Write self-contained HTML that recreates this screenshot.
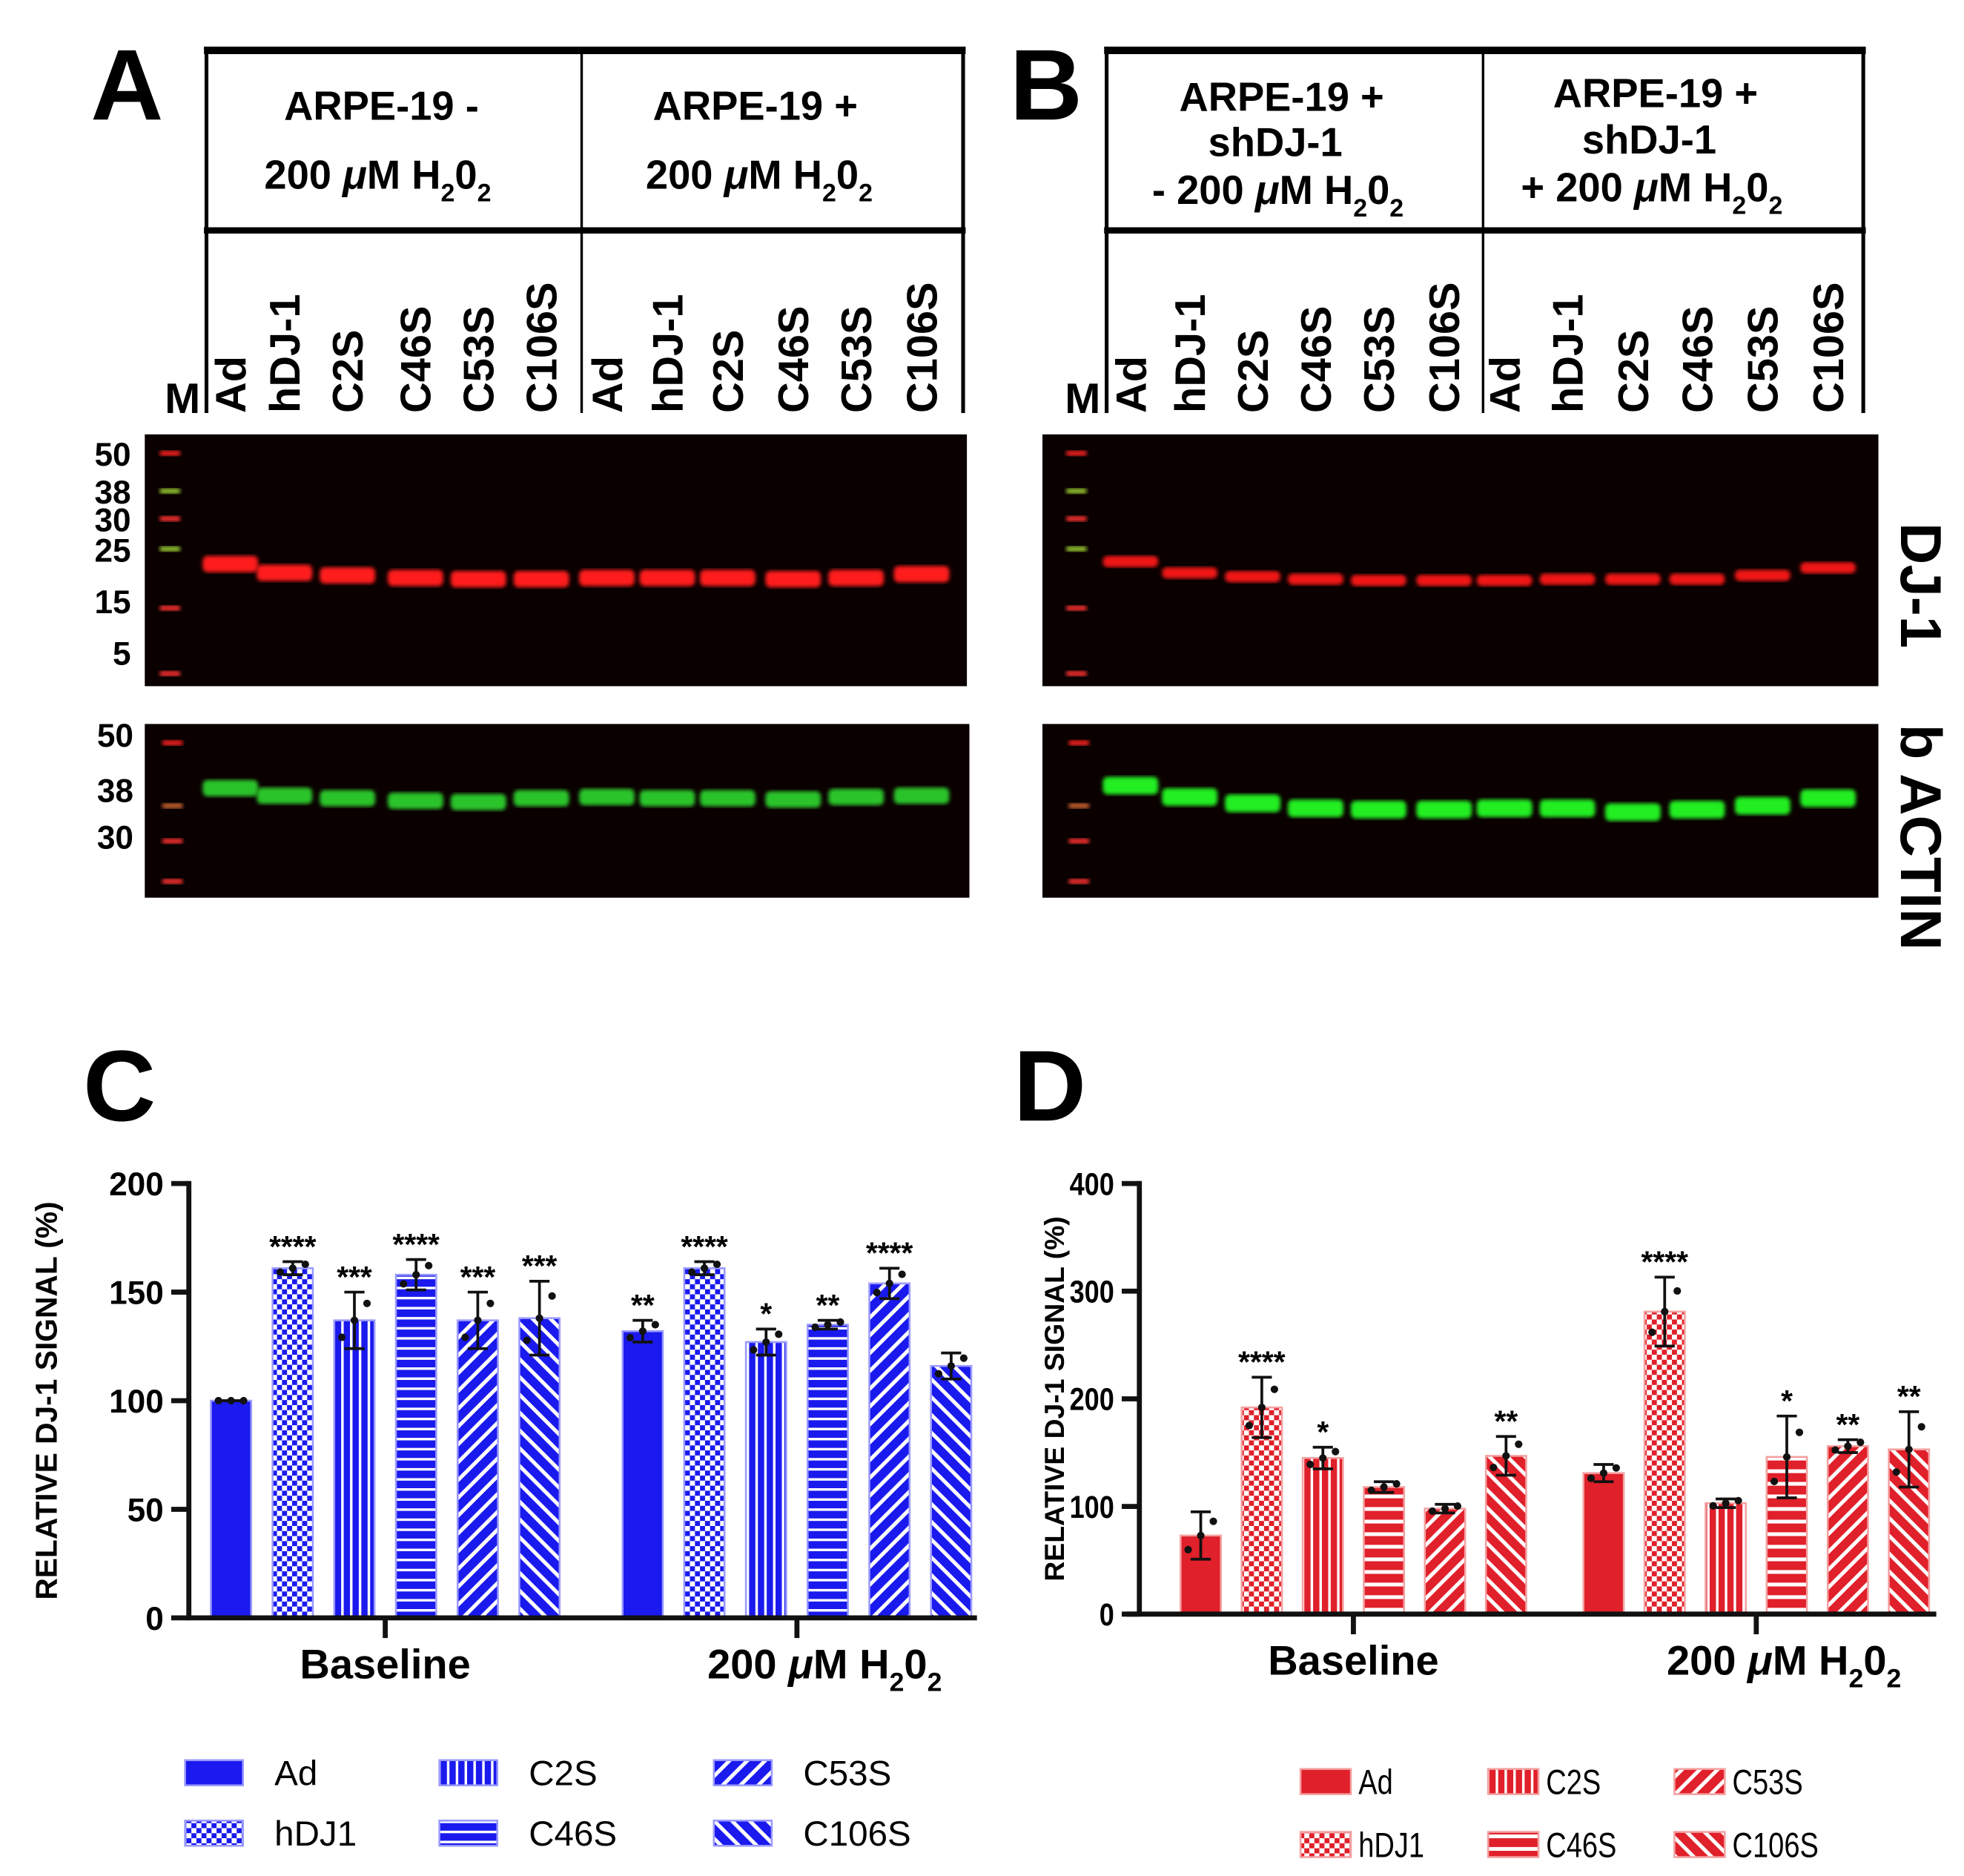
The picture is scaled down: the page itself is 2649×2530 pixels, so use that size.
<!DOCTYPE html>
<html><head><meta charset="utf-8"><style>
html,body{margin:0;padding:0;background:#fff;}
svg{display:block;font-family:"Liberation Sans",Arial,sans-serif;}
</style></head><body>
<svg id="fig" width="2649" height="2530" viewBox="0 0 1560 1490" preserveAspectRatio="none" xmlns="http://www.w3.org/2000/svg">
<defs>
 <pattern id="b-chk" width="8" height="8" patternUnits="userSpaceOnUse"><rect width="8" height="8" fill="#fff"/><rect width="4" height="4" fill="#1a1aee"/><rect x="4" y="4" width="4" height="4" fill="#1a1aee"/></pattern>
 <pattern id="b-vert" width="7" height="7" patternUnits="userSpaceOnUse"><rect width="7" height="7" fill="#1a1aee"/><rect x="5" width="2" height="7" fill="#fff"/></pattern>
 <pattern id="b-hor" width="8" height="8" patternUnits="userSpaceOnUse"><rect width="8" height="8" fill="#1a1aee"/><rect y="6" width="8" height="2" fill="#fff"/></pattern>
 <pattern id="b-up" width="10" height="10" patternUnits="userSpaceOnUse" patternTransform="rotate(45)"><rect width="10" height="10" fill="#1a1aee"/><rect x="7" width="3" height="10" fill="#fff"/></pattern>
 <pattern id="b-down" width="10" height="10" patternUnits="userSpaceOnUse" patternTransform="rotate(-45)"><rect width="10" height="10" fill="#1a1aee"/><rect x="7" width="3" height="10" fill="#fff"/></pattern>
 <pattern id="r-chk" width="8" height="8" patternUnits="userSpaceOnUse"><rect width="8" height="8" fill="#fff"/><rect width="4" height="4" fill="#e0202a"/><rect x="4" y="4" width="4" height="4" fill="#e0202a"/></pattern>
 <pattern id="r-vert" width="7" height="7" patternUnits="userSpaceOnUse"><rect width="7" height="7" fill="#e0202a"/><rect x="5" width="2" height="7" fill="#fff"/></pattern>
 <pattern id="r-hor" width="10" height="10" patternUnits="userSpaceOnUse"><rect width="10" height="10" fill="#e0202a"/><rect y="7" width="10" height="3" fill="#fff"/></pattern>
 <pattern id="r-up" width="10" height="10" patternUnits="userSpaceOnUse" patternTransform="rotate(45)"><rect width="10" height="10" fill="#e0202a"/><rect x="7" width="3" height="10" fill="#fff"/></pattern>
 <pattern id="r-down" width="10" height="10" patternUnits="userSpaceOnUse" patternTransform="rotate(-45)"><rect width="10" height="10" fill="#e0202a"/><rect x="7" width="3" height="10" fill="#fff"/></pattern>
 <filter id="blur"><feGaussianBlur stdDeviation="1.5"/></filter>
</defs>

<text x="72" y="95" font-size="80" font-weight="bold">A</text>
<text x="802" y="95" font-size="80" font-weight="bold">B</text>
<text x="66" y="890" font-size="80" font-weight="bold">C</text>
<text x="805" y="890" font-size="80" font-weight="bold">D</text>

<g stroke="#000" fill="none">
 <line x1="162" y1="40" x2="767" y2="40" stroke-width="6"/>
 <line x1="162" y1="183" x2="767" y2="183" stroke-width="5"/>
 <line x1="164" y1="40" x2="164" y2="328" stroke-width="3"/>
 <line x1="462" y1="40" x2="462" y2="328" stroke-width="2"/>
 <line x1="765" y1="40" x2="765" y2="328" stroke-width="3"/>
</g>
<g stroke="#000" fill="none">
 <line x1="877" y1="40" x2="1482" y2="40" stroke-width="6"/>
 <line x1="877" y1="183" x2="1482" y2="183" stroke-width="5"/>
 <line x1="879" y1="40" x2="879" y2="328" stroke-width="3"/>
 <line x1="1178" y1="40" x2="1178" y2="328" stroke-width="2"/>
 <line x1="1480" y1="40" x2="1480" y2="328" stroke-width="3"/>
</g>
<g font-weight="bold" font-size="32" text-anchor="middle">
 <text x="303" y="95">ARPE-19 -</text>
 <text x="300" y="150">200 <tspan font-style="italic">μ</tspan>M H<tspan font-size="20" dy="10">2</tspan><tspan dy="-10">0</tspan><tspan font-size="20" dy="10">2</tspan></text>
 <text x="600" y="95">ARPE-19 +</text>
 <text x="603" y="150">200 <tspan font-style="italic">μ</tspan>M H<tspan font-size="20" dy="10">2</tspan><tspan dy="-10">0</tspan><tspan font-size="20" dy="10">2</tspan></text>
 <text x="1018" y="88">ARPE-19 +</text>
 <text x="1013" y="124">shDJ-1</text>
 <text x="1015" y="162">- 200 <tspan font-style="italic">μ</tspan>M H<tspan font-size="20" dy="10">2</tspan><tspan dy="-10">0</tspan><tspan font-size="20" dy="10">2</tspan></text>
 <text x="1315" y="85">ARPE-19 +</text>
 <text x="1310" y="122">shDJ-1</text>
 <text x="1312" y="160">+ 200 <tspan font-style="italic">μ</tspan>M H<tspan font-size="20" dy="10">2</tspan><tspan dy="-10">0</tspan><tspan font-size="20" dy="10">2</tspan></text>
</g>
<g id="lanes"></g>
<g id="blots"></g>

<text transform="translate(1510,465) rotate(90)" text-anchor="middle" font-size="46" font-weight="bold">DJ-1</text>
<text transform="translate(1510,665) rotate(90)" text-anchor="middle" font-size="46" font-weight="bold">b ACTIN</text>

<g id="chartC"></g>
<g id="chartD"></g>
</svg>
<script>
const NS='http://www.w3.org/2000/svg';
function mk(tag,attrs,parent,txt){const e=document.createElementNS(NS,tag);for(const k in attrs)e.setAttribute(k,attrs[k]);if(txt!==undefined)e.textContent=txt;parent.appendChild(e);return e;}

const laneNames=['Ad','hDJ-1','C2S','C46S','C53S','C106S','Ad','hDJ-1','C2S','C46S','C53S','C106S'];
const lanesA=[183,226,276,330,380,430,482,530,578,630,680,732];
const lanesB=[898,945,995,1045,1095,1147,1195,1245,1297,1348,1400,1452];
const lg=document.getElementById('lanes');
[[lanesA,145,'a'],[lanesB,860,'b']].forEach(([xs,mx,p])=>{
  const m=mk('text',{x:mx,y:328,'font-size':34,'font-weight':'bold','text-anchor':'middle'},lg,'M');
  
  
  xs.forEach((x,i)=>{
    const t=mk('text',{transform:`translate(${x+12},328) rotate(-90)`,'font-size':34,'font-weight':'bold'},lg,laneNames[i]);
    
    
  });
});

const bg=document.getElementById('blots');
function blot(x,y,w,h,name,lanes,bandY,color,bh,ladderX,ladder){
  const g=mk('g',{},bg);
  
  
  mk('rect',{x,y,width:w,height:h,fill:'#0a0000'},g);
  ladder.forEach(([ly,c])=>mk('rect',{x:ladderX-8,y:ly-2,width:16,height:4,fill:c,filter:'url(#blur)'},g));
  lanes.forEach((lx,i)=>{
    mk('rect',{x:lx-22,y:bandY[i]-bh/2,width:44,height:bh,rx:4,fill:color,filter:'url(#blur)'},g);
  });
}
const ladRed=[[360,'#f22'],[390,'#9c3'],[412,'#f33'],[436,'#9c3'],[483,'#f33'],[535,'#f33']];
const ladAct=[[590,'#f22'],[640,'#c63'],[668,'#f33'],[700,'#f33']];
blot(115,345,653,200,'dj1-blot-a',lanesA,[448,455,457,459,460,460,459,459,459,460,459,456],'#ff1a1a',13,135,ladRed);
blot(828,345,664,200,'dj1-blot-b',lanesB,[446,455,458,460,461,461,461,460,460,460,457,451],'#f01818',9,855,ladRed);
blot(115,575,655,138,'actin-blot-a',lanesA,[626,632,634,636,637,634,633,634,634,635,633,632],'#29c42c',13,137,ladAct);
blot(828,575,664,138,'actin-blot-b',lanesB,[624,633,638,642,643,643,642,642,645,643,640,634],'#22ee22',14,857,ladAct);
[['50',360],['38',390],['30',412],['25',436],['15',477],['5',518]].forEach(([t,y])=>{const e=mk('text',{x:104,y:y+10,'font-size':26,'font-weight':'bold','text-anchor':'end'},bg,t);});
[['50',583],['38',627],['30',664]].forEach(([t,y])=>{const e=mk('text',{x:106,y:y+10,'font-size':26,'font-weight':'bold','text-anchor':'end'},bg,t);});

const series=['Ad','hDJ1','C2S','C46S','C53S','C106S'];
const groups=['Baseline','200 μM H2O2'];
const cValues=[[100,161,137,158,137,138],[132,161,127,135,154,116]];
const cErrors=[[0,3,13,7,13,17],[5,3,6,2,7,6]];
const cStars=[['','****','***','****','***','***'],['**','****','*','**','****','']];
const cTicks=[0,50,100,150,200];
const dValues=[[73,192,145,118,98,147],[131,281,103,146,156,153]];
const dErrors=[[22,28,10,5,4,18],[8,32,4,38,6,35]];
const dStars=[['','****','*','','','**'],['','****','','*','**','**']];
const dTicks=[0,100,200,300,400];
const patKeys=['solid','chk','vert','hor','up','down'];

function chart(cfg){
  const g=document.getElementById(cfg.id);
  
  
  const ymax=cfg.ticks[cfg.ticks.length-1];
  const Y=v=>cfg.y0-(v/ymax)*(cfg.y0-cfg.ytop);
  const X=(gi,si)=>cfg.gx[gi]+(si-2.5)*cfg.step;
  cfg.values.forEach((vals,gi)=>vals.forEach((v,si)=>{
    const x=X(gi,si), bw=cfg.bw;
    const fill=si===0?cfg.color:`url(#${cfg.pre}-${patKeys[si]})`;
    const r=mk('rect',{x:x-bw/2,y:Y(v),width:bw,height:cfg.y0-Y(v),fill,stroke:cfg.light,'stroke-width':1.5},g);
    
    
    const e=cfg.errors[gi][si];
    const eg=mk('g',{stroke:'#111','stroke-width':2.2},g);
    
    
    mk('line',{x1:x,x2:x,y1:Y(v-e),y2:Y(v+e)},eg);
    mk('line',{x1:x-8,x2:x+8,y1:Y(v+e),y2:Y(v+e)},eg);
    mk('line',{x1:x-8,x2:x+8,y1:Y(v-e),y2:Y(v-e)},eg);
    [-10,0,10].forEach((dx,k)=>mk('circle',{cx:x+dx,cy:Y(v+(k-1)*e*0.6),r:3,fill:'#111',stroke:'none'},eg));
    const s=cfg.stars[gi][si];
    if(s){const t=mk('text',{x:x,y:Y(v+e)-4,'font-size':cfg.starFs,'font-weight':'bold','text-anchor':'middle'},g,s);
      
      }
  }));
  const ax=mk('g',{stroke:'#111','stroke-width':4},g);
  
  
  mk('line',{x1:cfg.ax,x2:cfg.ax,y1:cfg.ytop-2,y2:cfg.y0},ax);
  mk('line',{x1:cfg.xl,x2:cfg.xr,y1:cfg.y0,y2:cfg.y0},ax);
  cfg.ticks.forEach(t=>{
    mk('line',{x1:cfg.ax-14,x2:cfg.ax,y1:Y(t),y2:Y(t)},ax);
    const l=mk('text',{x:cfg.ax-20,y:Y(t)+cfg.tickFs*0.36,'font-size':cfg.tickFs,'font-weight':'bold','text-anchor':'end',stroke:'none',transform:cfg.narrow?`translate(${(cfg.ax-20)*0.15},0) scale(0.85,1)`:''},g,String(t));
    
    
  });
  cfg.gx.forEach((gx,gi)=>{
    mk('line',{x1:gx,x2:gx,y1:cfg.y0,y2:cfg.y0+16},ax);
    const t=mk('text',{x:gx+(gi?22:0),y:cfg.y0+48,'font-size':33,'font-weight':'bold','text-anchor':'middle'},g);
    
    
    if(gi===0)t.textContent=groups[0];
    else t.innerHTML='200 <tspan font-style="italic">μ</tspan>M H<tspan font-size="21" dy="10">2</tspan><tspan dy="-10">0</tspan><tspan font-size="21" dy="10">2</tspan>';
  });
  const yt=mk('text',{transform:`translate(${cfg.ytx},${(cfg.y0+cfg.ytop)/2}) rotate(-90)`,'font-size':cfg.ytFs,'font-weight':'bold','text-anchor':'middle'},g,'RELATIVE DJ-1 SIGNAL (%)');
  
  
  series.forEach((s,si)=>{
    const col=Math.floor(si/2), row=si%2;
    const lx=cfg.legX[col], ly=cfg.legY[row];
    const fill=si===0?cfg.color:`url(#${cfg.pre}-${patKeys[si]})`;
    const le=mk('g',{},g);
    
    
    mk('rect',{x:lx,y:ly-10,width:cfg.swW,height:20,fill,stroke:cfg.light,'stroke-width':1.5},le);
    mk('text',{x:lx+cfg.swW+cfg.gap,y:ly+10,'font-size':cfg.legFs,transform:cfg.narrow?`translate(${(lx+cfg.swW+cfg.gap)*0.2},0) scale(0.8,1)`:''},le,s);
  });
}
chart({id:'chartC',name:'chart-c',key:'c',pre:'b',color:'#1a1aee',light:'#9a9aff',values:cValues,errors:cErrors,stars:cStars,ticks:cTicks,
  y0:1285,ytop:940,ax:150,xl:148,xr:776,gx:[306,633],step:49,bw:32,starFs:24,tickFs:26,ytx:45,ytFs:24,
  legX:[147,349,567],legY:[1408,1456],swW:46,gap:25,legFs:28});
chart({id:'chartD',name:'chart-d',key:'d',pre:'r',color:'#e0202a',light:'#f5a0a0',values:dValues,errors:dErrors,stars:dStars,ticks:dTicks,
  y0:1282,ytop:940,ax:905,xl:895,xr:1538,gx:[1075,1395],step:48.5,bw:32,starFs:24,tickFs:25,ytx:845,ytFs:22,narrow:true,
  legX:[1033,1182,1330],legY:[1415,1465],swW:40,gap:6,legFs:28});
</script>
</body></html>
